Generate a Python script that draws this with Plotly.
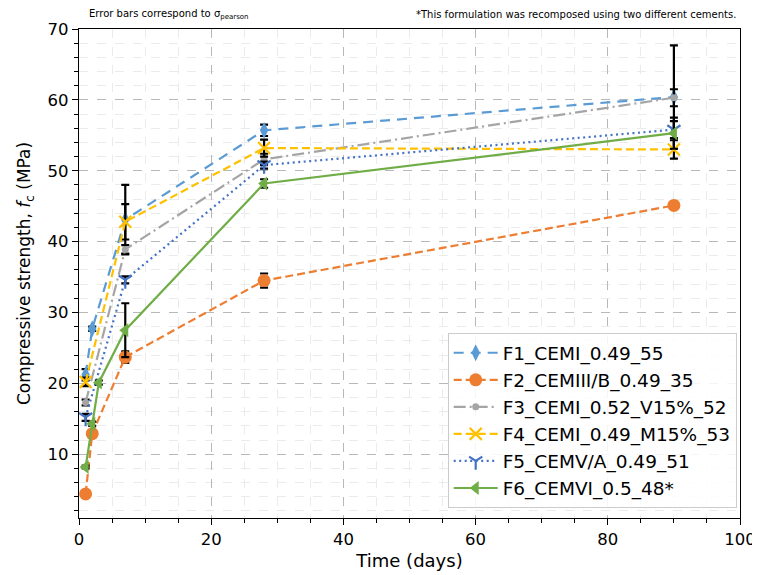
import plotly.graph_objects as go

# ---- data ----
names = ["F1_CEMI_0.49_55", "F2_CEMIII/B_0.49_35", "F3_CEMI_0.52_V15%_52",
         "F4_CEMI_0.49_M15%_53", "F5_CEMV/A_0.49_51", "F6_CEMVI_0.5_48*"]

f1_t = [1, 2, 7, 28, 90]
f1_y = [21.2, 27.7, 43.1, 55.7, 60.4]
f1_e = [0.8, 0.3, 4.9, 0.8, 7.3]

f2_t = [1, 2, 7, 28, 90]
f2_y = [4.4, 12.9, 23.7, 34.5, 45.1]
f2_e = [0.3, 0.4, 0.8, 1.0, 0.5]

f3_t = [1, 7, 28, 90]
f3_y = [17.3, 38.9, 51.6, 60.3]
f3_e = [0.4, 0.6, 0.8, 1.2]

f4_t = [1, 7, 28, 90]
f4_y = [20.2, 42.8, 53.2, 53.0]
f4_e = [0.6, 2.5, 1.2, 1.3]

f5_t = [1, 7, 28, 90]
f5_y = [15.2, 34.6, 50.8, 55.8]
f5_e = [0.5, 0.5, 0.5, 1.2]

f6_t = [1, 2, 3, 7, 28, 90]
f6_y = [8.2, 14.3, 20.1, 27.5, 48.2, 55.3]
f6_e = [0.2, 0.3, 0.3, 3.8, 0.6, 2.2]

x_ticks = [0, 20, 40, 60, 80, 100]
y_ticks = [10, 20, 30, 40, 50, 60, 70]

# ---- styles ----
colors = ["#5B9BD5", "#ED7D31", "#A5A5A5", "#FFC000", "#4472C4", "#70AD47"]
dashes = ["10px,7px", "8px,4px", "12px,4px,2px,4px", "8px,4px", "2px,3.5px", "solid"]
symbols = ["diamond-tall", "circle", "circle", "x-thin-open", "y-down-open", "triangle-left"]
sizes = [12, 13, 7, 12, 11, 12]

series = [(f1_t, f1_y, f1_e), (f2_t, f2_y, f2_e), (f3_t, f3_y, f3_e),
          (f4_t, f4_y, f4_e), (f5_t, f5_y, f5_e), (f6_t, f6_y, f6_e)]

fig = go.Figure()
for i, (t, y, e) in enumerate(series):
    open_sym = symbols[i].endswith("open")
    fig.add_trace(go.Scatter(
        x=t, y=y, name=names[i], mode="lines+markers",
        line=dict(color=colors[i], width=2.2, dash=dashes[i]),
        marker=dict(symbol=symbols[i], size=sizes[i], color=colors[i],
                    line=dict(color=colors[i], width=2.2 if open_sym else 0)),
        error_y=dict(type="data", array=e, visible=True, color="black",
                     thickness=2.2, width=4),
    ))

font = "DejaVu Sans, Arial, sans-serif"
fig.update_layout(
    width=760, height=575,
    margin=dict(l=71, r=28, t=21, b=65, autoexpand=False),
    paper_bgcolor="white", plot_bgcolor="white",
    font=dict(family=font, color="black", size=16),
    showlegend=True,
    legend=dict(x=0.995, y=0.02, xanchor="right", yanchor="bottom",
                bgcolor="rgba(255,255,255,0.85)", bordercolor="#cccccc",
                borderwidth=1, font=dict(size=18.5, family=font),
                itemwidth=44, tracegroupgap=2),
    xaxis=dict(range=[0, 100], tickvals=x_ticks, ticks="outside", ticklen=6,
               tickwidth=1.2, tickcolor="black", automargin=False,
               showline=True, linecolor="black", linewidth=1.2, mirror=True,
               showgrid=True, gridcolor="#b8b8b8", griddash="dash", gridwidth=1,
               zeroline=False, tickfont=dict(size=16.5),
               title=dict(text="Time (days)", font=dict(size=18), standoff=6),
               minor=dict(dtick=5, ticks="outside", ticklen=3.5, tickcolor="black",
                          showgrid=True, gridcolor="#ebebeb", gridwidth=1)),
    yaxis=dict(range=[1.0, 70], tickvals=y_ticks, ticks="outside", ticklen=6,
               tickwidth=1.2, tickcolor="black", automargin=False,
               showline=True, linecolor="black", linewidth=1.2, mirror=True,
               showgrid=True, gridcolor="#b8b8b8", griddash="dash", gridwidth=1,
               zeroline=False, tickfont=dict(size=16.5),
               title=dict(text="Compressive strength, <i>f</i><sub>c</sub> (MPa)",
                          font=dict(size=17), standoff=12),
               minor=dict(dtick=2, tick0=0, ticks="outside", ticklen=3.5, tickcolor="black",
                          showgrid=True, gridcolor="#ebebeb", gridwidth=1)),
    annotations=[
        dict(text="Error bars correspond to σ<sub>pearson</sub>", xref="paper", yref="paper",
             x=0.012, y=1.0, xanchor="left", yanchor="middle", yshift=15, showarrow=False,
             font=dict(size=10, family=font)),
        dict(text="*This formulation was recomposed using two different cements.",
             xref="paper", yref="paper", x=0.997, y=1.0, xanchor="right", yanchor="middle",
             yshift=15, showarrow=False, font=dict(size=10, family=font)),
    ],
)

fig.write_html("out.html")
